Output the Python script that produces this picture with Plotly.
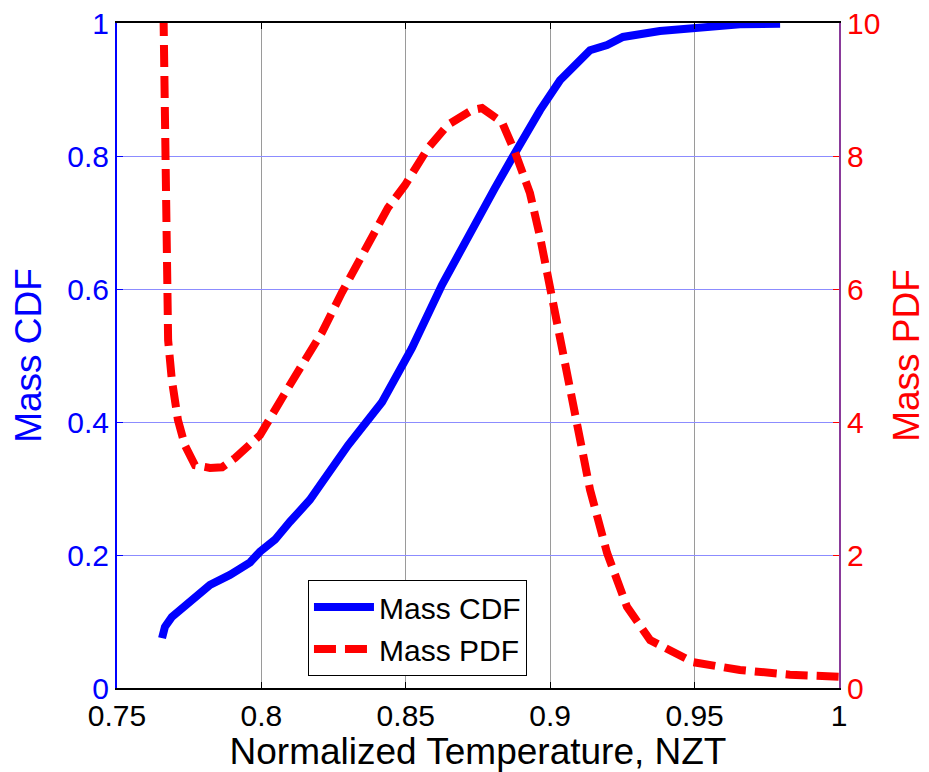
import plotly.graph_objects as go

# Mass CDF (left axis)
cdf_x = [0.7656, 0.7666, 0.7690, 0.7718, 0.7753, 0.7822, 0.7891, 0.7961, 0.7995,
         0.8047, 0.8099, 0.8168, 0.8203, 0.8300, 0.8418, 0.8521, 0.8625, 0.8729,
         0.8809, 0.8868, 0.8965, 0.9034, 0.9138, 0.9197, 0.9252, 0.9380, 0.9508,
         0.9657, 0.9796]
cdf_y = [0.075, 0.092, 0.107, 0.117, 0.129, 0.155, 0.170, 0.189, 0.205,
         0.223, 0.250, 0.283, 0.305, 0.365, 0.430, 0.511, 0.606, 0.692,
         0.752, 0.797, 0.869, 0.914, 0.959, 0.967, 0.979, 0.988, 0.994,
         0.998, 0.999]

# Mass PDF (right axis)
pdf_x = [0.7655, 0.7663, 0.7670, 0.7673, 0.7677, 0.7690, 0.7711, 0.7735, 0.7770,
         0.7822, 0.7864, 0.7909, 0.7961, 0.7995, 0.8092, 0.8210, 0.8279, 0.8359,
         0.8438, 0.8497, 0.8577, 0.8646, 0.8729, 0.8764, 0.8833, 0.8878, 0.8930,
         0.8965, 0.8999, 0.9034, 0.9079, 0.9114, 0.9138, 0.9197, 0.9266, 0.9346,
         0.9494, 0.9657, 0.9830, 1.0]
pdf_y = [12.0, 8.84, 7.34, 5.83, 5.23, 4.63, 4.03, 3.65, 3.35,
         3.31, 3.32, 3.46, 3.65, 3.80, 4.51, 5.35, 5.95, 6.56,
         7.22, 7.56, 8.12, 8.47, 8.69, 8.72, 8.51, 8.06, 7.44,
         6.78, 6.03, 5.23, 4.33, 3.47, 2.98, 2.03, 1.22, 0.72,
         0.39, 0.27, 0.20, 0.17]

x_ticks = [0.75, 0.8, 0.85, 0.9, 0.95, 1.0]
x_ticklabels = ["0.75", "0.8", "0.85", "0.9", "0.95", "1"]
y1_ticks = [0, 0.2, 0.4, 0.6, 0.8, 1.0]
y1_ticklabels = ["0", "0.2", "0.4", "0.6", "0.8", "1"]
y2_ticks = [0, 2, 4, 6, 8, 10]

FONT = "Liberation Sans, Arial, sans-serif"

fig = go.Figure()
fig.add_trace(go.Scatter(x=cdf_x, y=cdf_y, mode="lines", name="Mass CDF",
                         line=dict(color="#0000ff", width=8), yaxis="y"))
fig.add_trace(go.Scatter(x=pdf_x, y=pdf_y, mode="lines", name="Mass PDF",
                         line=dict(color="#ff0000", width=8, dash="22px,9px"),
                         yaxis="y2"))

fig.update_layout(
    width=929, height=772,
    margin=dict(l=117, r=90, t=23, b=84, autoexpand=False),
    paper_bgcolor="white", plot_bgcolor="white",
    font=dict(family=FONT, size=30, color="black"),
    showlegend=True,
    legend=dict(x=0.2645, y=0.1624, xanchor="left", yanchor="top",
                bgcolor="white", bordercolor="black", borderwidth=1,
                font=dict(size=30, family=FONT, color="black"),
                tracegroupgap=0, itemwidth=60),
    xaxis=dict(range=[0.75, 1.0], tickvals=x_ticks, ticktext=x_ticklabels,
               showgrid=True, gridcolor="#9a9a9a", gridwidth=1,
               showline=True, linecolor="black", linewidth=2, mirror="ticks",
               ticks="inside", ticklen=6, tickcolor="black",
               zeroline=False, automargin=False,
               tickfont=dict(size=30, color="black", family=FONT),
               title=dict(text="Normalized Temperature, NZT",
                          font=dict(size=37, color="black", family=FONT),
                          standoff=4)),
    yaxis=dict(range=[0, 1.0], tickvals=y1_ticks, ticktext=y1_ticklabels,
               showgrid=True, gridcolor="#8c8cff", gridwidth=1,
               showline=True, linecolor="#0000ff", linewidth=2,
               ticks="inside", ticklen=6, tickcolor="#0000ff",
               zeroline=False, automargin=False,
               tickfont=dict(size=30, color="#0000ff", family=FONT),
               title=dict(text="Mass CDF",
                          font=dict(size=37, color="#0000ff", family=FONT),
                          standoff=14)),
    yaxis2=dict(range=[0, 10], tickvals=y2_ticks, overlaying="y", side="right",
                showgrid=False, showline=True, linecolor="#8a3a9a", linewidth=2,
                ticks="inside", ticklen=6, tickcolor="#ff0000",
                zeroline=False, automargin=False,
                tickfont=dict(size=30, color="#ff0000", family=FONT),
                title=dict(text="Mass PDF",
                           font=dict(size=37, color="#ff0000", family=FONT),
                           standoff=14)),
)

fig.write_html("out.html")
